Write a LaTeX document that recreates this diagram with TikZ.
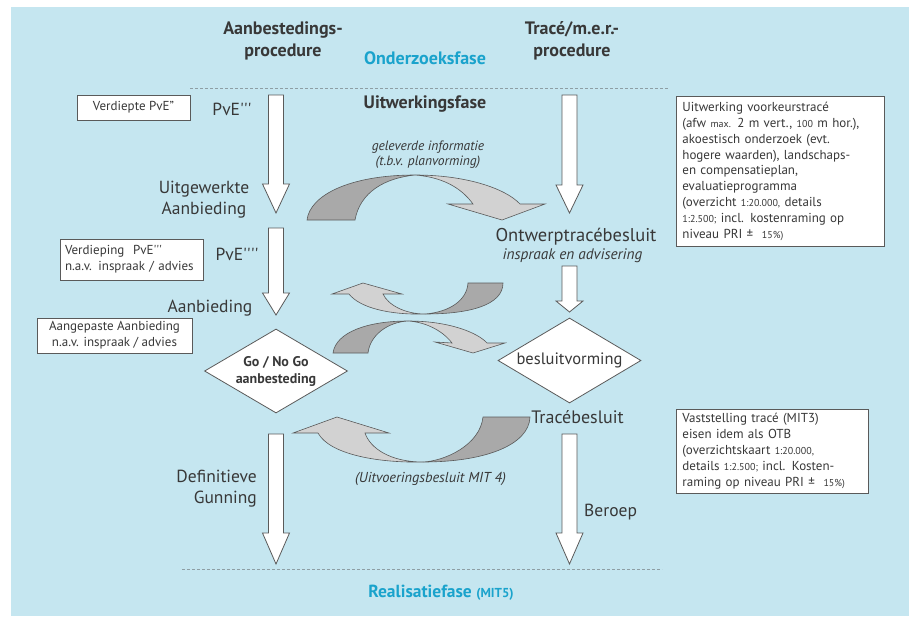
\documentclass[tikz,border=0pt]{standalone}
\usepackage{fontspec}
\setmainfont{PT Sans}[Ligatures=TeXOff]
\usetikzlibrary{shapes.geometric,calc}

\definecolor{bgblue}{HTML}{C5E6F0}
\definecolor{phase}{HTML}{1AA3CC}
\definecolor{ink}{HTML}{383838}
\definecolor{boxedge}{HTML}{5A5A5A}
\definecolor{darkband}{HTML}{A9A9A9}
\definecolor{lightband}{HTML}{D2D2D2}
\definecolor{dashgray}{HTML}{8E9EA4}

\tikzset{
  lbl/.style={text=ink, font=\fontsize{17.5}{21}\selectfont, inner sep=0pt, align=center},
  hdr/.style={text=ink, font=\bfseries\fontsize{18}{22}\selectfont, inner sep=0pt, align=center},
  fase/.style={text=phase, font=\bfseries\fontsize{17.5}{20}\selectfont, inner sep=0pt},
  remark/.style={text=ink, font=\itshape\fontsize{13.5}{15}\selectfont, inner sep=0pt, align=center},
  memo/.style={draw=boxedge, fill=white, text=ink, font=\fontsize{13}{15.9}\selectfont,
               line width=0.8pt, inner sep=0pt},
  decision/.style={diamond, draw=boxedge, fill=white, text=ink, line width=0.8pt, inner sep=0pt,
                   aspect=1.7},
  blockarrow/.style={draw=boxedge, fill=white, line width=0.8pt, line join=miter},
  banddark/.style={draw=boxedge, fill=darkband, line width=0.6pt},
  bandlight/.style={draw=boxedge, fill=lightband, line width=0.6pt},
  faseline/.style={draw=dashgray, line width=0.8pt, dash pattern=on 3pt off 2pt}
}

% hollow block arrow pointing down: #1 start, #2 tip, #3 head length
\newcommand\blockdown[3]{%
  \draw[blockarrow] ($(#1)+(-7.5,0)$) -- ($(#1)+(7.5,0)$) -- ($(#2)+(7.5,-#3)$)
    -- ($(#2)+(13.5,-#3)$) -- (#2) -- ($(#2)+(-13.5,-#3)$) -- ($(#2)+(-7.5,-#3)$) -- cycle;}

\newcommand\smallnum[1]{{\fontsize{10}{12}\selectfont #1}}

\begin{document}
\begin{tikzpicture}[x=1pt,y=-1pt]
\useasboundingbox (0,0) rectangle (909,616);
\fill[bgblue] (11,7) rectangle (909,616);

% column headings and phases
\node[hdr] (hdA) at (283,41) {Aanbestedings-\\procedure};
\node[hdr] (hdT) at (572,41) {Tracé/m.e.r.-\\procedure};
\node[fase, font=\bfseries\fontsize{18}{20}\selectfont] (onderzoek) at (425,58) {Onderzoeksfase};
\draw[faseline] (190,88) -- (668,88);
\node[hdr] (uitwerking) at (425,104) {Uitwerkingsfase};
\draw[faseline] (182,569) -- (662,569);
\node[fase] (realisatie) at (441,593) {Realisatiefase {\fontsize{13}{14}\selectfont(MIT5)}};

% tendering column
\node[memo, minimum width=113, minimum height=25] (verdiepte) at (133.5,107.5) {Verdiepte PvE”};
\node[lbl] (pve3) at (232,109) {PvE'''};
\node[lbl] (uitgewerkt) at (204,199.5) {Uitgewerkte\\Aanbieding};
\node[memo, minimum width=143, minimum height=41, text width=133, align=left] (verdieping) at (131.5,259.5)
  {Verdieping\ \ PvE'''\\n.a.v. inspraak / advies};
\node[lbl] (pve4) at (237,254) {PvE''''};
\node[lbl] (aanbieding) at (210,308) {Aanbieding};
\node[memo, minimum width=155, minimum height=35, align=center] (aangepast) at (114.5,335.5)
  {Aangepaste Aanbieding\\n.a.v. inspraak / advies};
\node[decision, minimum width=143, minimum height=84, font=\bfseries\fontsize{14}{17}\selectfont,
      align=center] (gonogo) at (276,371) {Go / No Go\\aanbesteding};
\node[lbl, align=right, anchor=east] (gunning) at (257,489) {Definitieve\\Gunning};

% route decision column
\node[lbl, font=\fontsize{18.5}{21}\selectfont] (otb) at (576,237) {Ontwerptracébesluit};
\node[remark, font=\itshape\fontsize{15.3}{17}\selectfont] (inspraak) at (572.5,255.5) {inspraak en advisering};
\node[decision, minimum width=143, minimum height=85, font=\fontsize{16.5}{20}\selectfont] (besluit) at (569.5,360.5) {besluitvorming};
\node[lbl, font=\fontsize{18}{21}\selectfont] (tracebesluit) at (577.5,417) {Tracébesluit};
\node[lbl, anchor=west] (beroep) at (584,512) {Beroep};

% notes on the right
\node[memo, anchor=north west, minimum width=208, minimum height=150, text width=196, align=left] (noteOTB) at (676,96)
  {Uitwerking voorkeurstracé\\
   (afw \smallnum{max.} 2 m vert., \smallnum{100} m hor.),\\
   akoestisch onderzoek (evt.\\
   hogere waarden), landschaps-\\
   en compensatieplan,\\
   evaluatieprogramma\\
   (overzicht \smallnum{1:20.000,} details\\
   \smallnum{1:2.500;} incl. kostenraming op\\
   niveau PRI ±\ \ \smallnum{15\%)}};
\node[memo, anchor=north west, minimum width=192, minimum height=84, text width=180, align=left] (noteTB) at (676,409)
  {Vaststelling tracé (MIT3)\\
   eisen idem als OTB\\
   (overzichtskaart \smallnum{1:20.000,}\\
   details \smallnum{1:2.500;} incl. Kosten-\\
   raming op niveau PRI ±\ \ \smallnum{15\%)}};

% straight block arrows
\coordinate (l1s) at (276,95);   \coordinate (l1e) at (276,213);
\coordinate (l2s) at (276,228);  \coordinate (l2e) at (276,315);
\coordinate (l3s) at (276,434);  \coordinate (l3e) at (276,564);
\coordinate (r1s) at (569.5,95);  \coordinate (r1e) at (569.5,213);
\coordinate (r2s) at (569.5,266); \coordinate (r2e) at (569.5,312);
\coordinate (r3s) at (569.5,434); \coordinate (r3e) at (569.5,564);
\blockdown{l1s}{l1e}{29}
\blockdown{l2s}{l2e}{22}
\blockdown{l3s}{l3e}{31}
\blockdown{r1s}{r1e}{28}
\blockdown{r2s}{r2e}{11}
\blockdown{r3s}{r3e}{31}

% twisted curved arrows
% information delivered to the route procedure
\coordinate (pA) at (415,175);
\draw[banddark] (307,220) .. controls (310,195) and (350,175) .. (pA)
  .. controls (385,178) and (360,192) .. (355,220) -- cycle;
\draw[bandlight] (pA) .. controls (465,175) and (505,188) .. (520,204) -- (545,204) -- (502,220)
  -- (448,204) -- (473,204) .. controls (460,186) and (440,177) .. (pA) -- cycle;
\node[remark] (geleverd) at (428,154.5) {geleverde informatie\\(t.b.v. planvorming)};

% feedback to the tender
\coordinate (pB) at (425,314);
\draw[banddark] (468,283) -- (503,283) .. controls (503,305) and (470,314) .. (pB)
  .. controls (450,312) and (467,300) .. (468,283) -- cycle;
\draw[bandlight] (pB) .. controls (405,314) and (388,305) .. (383,294) -- (402,294) -- (363,283)
  -- (332,294) -- (349,294) .. controls (360,308) and (390,315) .. (pB) -- cycle;

% tender result towards decision making
\coordinate (pC) at (408,321);
\draw[banddark] (333,353) .. controls (336,332) and (368,321) .. (pC)
  .. controls (388,322) and (370,335) .. (368,353) -- cycle;
\draw[bandlight] (pC) .. controls (450,321) and (478,333) .. (487,343) -- (505,343) -- (473,353)
  -- (435,342) -- (452,343) .. controls (442,330) and (425,322) .. (pC) -- cycle;

% execution decision back to the tender
\coordinate (pD) at (423,462);
\draw[banddark] (483,417) -- (530,417) .. controls (529,445) and (485,462) .. (pD)
  .. controls (445,461) and (480,445) .. (483,417) -- cycle;
\draw[bandlight] (pD) .. controls (390,462) and (370,448) .. (365,433) -- (389,433) -- (337,417)
  -- (293,433) -- (318,433) .. controls (330,455) and (380,463) .. (pD) -- cycle;
\node[remark, font=\itshape\fontsize{14.4}{16}\selectfont] (uitvoering) at (430.5,479) {(Uitvoeringsbesluit MIT 4)};

\end{tikzpicture}
\end{document}
